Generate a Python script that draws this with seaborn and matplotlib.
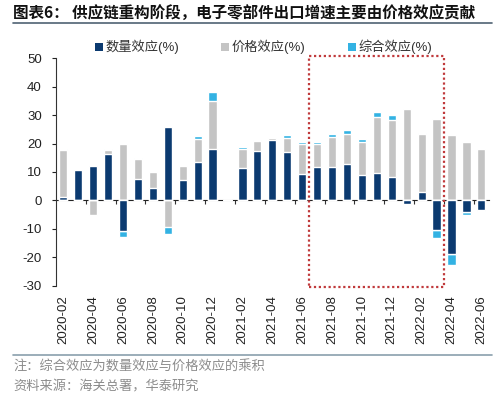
import numpy as np
import seaborn as sns
import matplotlib.pyplot as plt
from matplotlib.patches import Patch, Rectangle
from matplotlib.lines import Line2D

sns.set_style("white")
plt.rcParams['font.family'] = ['Liberation Sans', 'Noto Sans CJK SC']
plt.rcParams['axes.unicode_minus'] = False

# months (2021-01 has no data)
months = ["2020-02", "2020-03", "2020-04", "2020-05", "2020-06", "2020-07", "2020-08",
          "2020-09", "2020-10", "2020-11", "2020-12", "2021-01", "2021-02", "2021-03",
          "2021-04", "2021-05", "2021-06", "2021-07", "2021-08", "2021-09", "2021-10",
          "2021-11", "2021-12", "2022-01", "2022-02", "2022-03", "2022-04", "2022-05",
          "2022-06"]
qty = [1.3, 10.6, 12.0, 16.2, -10.8, 7.5, 4.5, 25.7, 7.0, 13.5, 18.0, 0, 11.4, 17.5,
       21.2, 17.1, 9.2, 11.9, 11.9, 12.7, 8.9, 9.6, 8.2, -1.1, 3.1, -10.4, -18.7, -4.2, -3.4]
price = [16.6, 0.0, -5.0, 1.6, 19.7, 6.9, 5.4, -9.3, 5.0, 8.0, 17.0, 0, 6.8, 3.5,
         0.8, 5.0, 10.5, 7.8, 10.5, 10.5, 11.8, 19.6, 20.1, 32.2, 20.1, 28.6, 23.1, 20.4, 18.1]
combo = [0.2, 0.0, -0.3, 0.3, -2.2, 0.4, 0.0, -2.5, 0.1, 1.1, 3.3, 0, 0.6, 0.4,
         0.1, 0.8, 0.8, 1.0, 1.1, 1.6, 0.9, 2.0, 1.7, -0.4, 0.5, -2.7, -4.1, -0.8, -0.5]
tick_labels = months[::2]
series_names = ["数量效应(%)", "价格效应(%)", "综合效应(%)"]
colors = ["#0b3a70", "#c4c4c4", "#33b2e3"]

# highlighted period (red dotted box)
box_x = (16.45, 25.5)

fig = plt.figure(figsize=(5, 3.99), dpi=100)
ax = fig.add_axes([0.1116, 0.284, 0.866, 0.570])

# stacked bars: positives stack upward, negatives downward, order qty -> price -> combo
q, p, c = np.array(qty), np.array(price), np.array(combo)
pos = np.cumsum([np.clip(q, 0, None), np.clip(p, 0, None), np.clip(c, 0, None)], axis=0)
neg = np.cumsum([np.clip(q, None, 0), np.clip(p, None, 0), np.clip(c, None, 0)], axis=0)
for i in [2, 1, 0]:
    for vals in (pos[i], neg[i]):
        sns.barplot(x=months, y=vals, color=colors[i], width=0.55, saturation=1,
                    errorbar=None, ax=ax)

ax.set_ylim(-30, 50)
ax.set_xlim(-0.5, len(months) - 0.5)
ax.set_yticks(range(-30, 51, 10))
ax.set_xticks(range(0, len(months), 2))
ax.set_xticklabels(tick_labels, rotation=90)
ax.tick_params(axis='x', length=0, pad=7, labelsize=9.5, colors='#222222')
ax.tick_params(axis='y', left=True, length=3, width=0.8, pad=7, labelsize=9.5,
               colors='#222222')
for s in ['top', 'right', 'bottom']:
    ax.spines[s].set_visible(False)
ax.spines['left'].set_color('#333333')
ax.spines['left'].set_linewidth(0.8)
ax.set_xlabel('')
ax.set_ylabel('')

# zero axis line with ticks between every second pair of months
zero_ax = ax.secondary_xaxis(30 / 80)
zero_ax.set_xticks(np.arange(1.5, len(months) - 1, 2))
zero_ax.tick_params(axis='x', direction='out', length=3, width=0.8, labelbottom=False,
                    color='#333333')
zero_ax.spines['bottom'].set_color('#222222')
zero_ax.spines['bottom'].set_linewidth(0.8)

ax.add_patch(Rectangle((box_x[0], -30.5), box_x[1] - box_x[0], 81.3, fill=False,
                       edgecolor='#c0393b', linestyle=(0, (1, 1.2)), linewidth=1.6,
                       clip_on=False, zorder=5))

handles = [Patch(facecolor=col, edgecolor='none') for col in colors]
fig.legend(handles, series_names, loc='center', bbox_to_anchor=(0.527, 0.882), ncol=3,
           frameon=False, fontsize=9.5, handlelength=0.6, handleheight=0.6,
           handletextpad=0.2, columnspacing=3.2, labelcolor='#333333')

fig.text(0.026, 0.968, "图表6： 供应链重构阶段，电子零部件出口增速主要由价格效应贡献",
         fontsize=11.2, fontweight='bold', va='center', ha='left',
         family=['Noto Sans CJK SC'], color='#111111')
fig.add_artist(Line2D([0.026, 0.984], [0.943, 0.943], color='#4f6273', linewidth=1.2))
fig.add_artist(Line2D([0.026, 0.984], [0.110, 0.110], color='#8aa0ad', linewidth=1.2))
fig.text(0.026, 0.080, "注：综合效应为数量效应与价格效应的乘积", fontsize=9.5,
         va='center', ha='left', family=['Noto Sans CJK SC'], color='#8c8c8c')
fig.text(0.026, 0.030, "资料来源：海关总署，华泰研究", fontsize=9.5,
         va='center', ha='left', family=['Noto Sans CJK SC'], color='#8c8c8c')

fig.savefig("out.png", dpi=100)
